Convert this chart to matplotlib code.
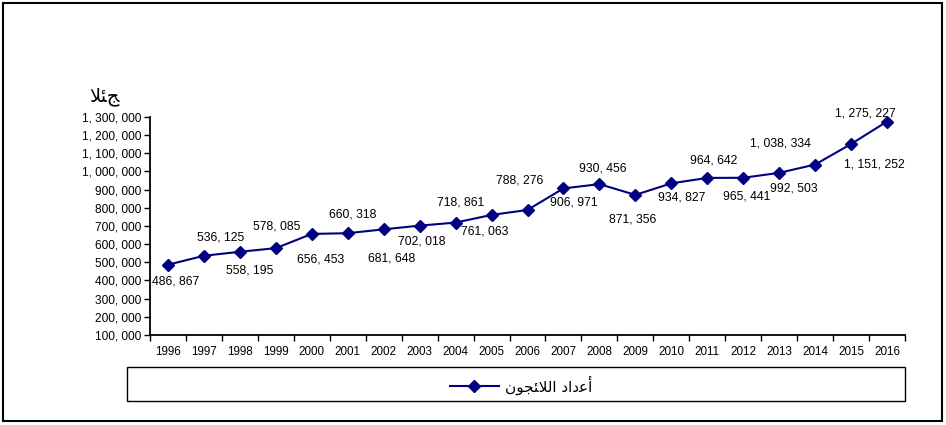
import matplotlib
matplotlib.use("Agg")
import matplotlib.pyplot as plt
from matplotlib.patches import Rectangle
from matplotlib.lines import Line2D
from matplotlib.ticker import FuncFormatter, FixedLocator, NullFormatter

years = [1996, 1997, 1998, 1999, 2000, 2001, 2002, 2003, 2004, 2005, 2006,
         2007, 2008, 2009, 2010, 2011, 2012, 2013, 2014, 2015, 2016]
refugees = [486867, 536125, 558195, 578085, 656453, 660318, 681648, 702018,
            718861, 761063, 788276, 906971, 930456, 871356, 934827, 964642,
            965441, 992503, 1038334, 1151252, 1275227]
y_ticks = [100000, 200000, 300000, 400000, 500000, 600000, 700000, 800000,
           900000, 1000000, 1100000, 1200000, 1300000]
series_label = "ﻥﻮﺠﺌﻼﻟﺍ ﺩﺍﺩﻋﺃ"
axis_title = "ﻼﺌﺞ"

# label offsets in pixels (dx, dy) relative to each point
label_offsets = [(8, -17), (17, 18), (10, -19), (1, 22), (9, -26), (5, 19),
                 (8, -29), (2, -16), (5, 20), (-7, -17), (-8, 29), (10, -14),
                 (3, 16), (-3, -25), (10, -14), (6, 17), (3, -19), (15, -16),
                 (-35, 21), (23, -20), (-22, 8)]

plt.rcParams['font.family'] = ['Liberation Sans', 'DejaVu Sans']

W, H = 946, 425
fig = plt.figure(figsize=(W / 100, H / 100), dpi=100)

def fx(px):
    return px / W

def fy(py):
    return 1 - py / H

ax = fig.add_axes([fx(150), fy(335), fx(905) - fx(150), fy(117) - fy(335)])

navy = "#000080"
xs = list(range(len(years)))
ax.plot(xs, refugees, color=navy, lw=1.5, marker='D', markersize=6.2,
        markerfacecolor=navy, markeredgecolor=navy)

def fmt(v):
    return f"{v:,}".replace(",", ", ")

for x, v, (dx, dy) in zip(xs, refugees, label_offsets):
    ax.annotate(fmt(v), (x, v), xytext=(dx, dy), textcoords='offset pixels',
                ha='center', va='center', fontsize=8.8, color='black')

ax.set_xlim(-0.5, len(years) - 0.5)
ax.set_ylim(y_ticks[0], y_ticks[-1])
ax.xaxis.set_major_locator(FixedLocator([i - 0.5 for i in range(len(years) + 1)]))
ax.xaxis.set_major_formatter(NullFormatter())
ax.xaxis.set_minor_locator(FixedLocator(xs))
ax.set_xticklabels([str(y) for y in years], minor=True)
ax.tick_params(axis='x', which='major', direction='out', length=4, width=1)
ax.tick_params(axis='x', which='minor', length=0, pad=8, labelsize=8.4)

ax.set_yticks(y_ticks)
ax.yaxis.set_major_formatter(FuncFormatter(lambda v, p: fmt(int(v))))
ax.tick_params(axis='y', direction='out', length=4, width=1, labelsize=8.6, pad=2)

for s in ['top', 'right']:
    ax.spines[s].set_visible(False)
for s in ['left', 'bottom']:
    ax.spines[s].set_linewidth(1.3)
    ax.spines[s].set_color('black')

fig.text(fx(104), fy(96), axis_title, ha='center', va='center', fontsize=14,
         family=['DejaVu Sans'])

# legend box
fig.patches.append(Rectangle((fx(127), fy(401)), fx(905) - fx(127), fy(367) - fy(401),
                             transform=fig.transFigure, fill=False,
                             edgecolor='black', lw=1.0))
handle = Line2D([], [], color=navy, lw=1.5, marker='D', markersize=6.2,
                markerfacecolor=navy, markeredgecolor=navy)
leg = fig.legend([handle], [series_label], loc='center',
                 bbox_to_anchor=(fx(521), fy(385)), frameon=False,
                 handlelength=3.2, handletextpad=0.4,
                 prop={'family': ['DejaVu Sans'], 'size': 11})

# outer border
fig.patches.append(Rectangle((fx(3), fy(421)), fx(942) - fx(3), fy(3) - fy(421),
                             transform=fig.transFigure, fill=False,
                             edgecolor='black', lw=1.5))

fig.savefig("out.png", dpi=100)
